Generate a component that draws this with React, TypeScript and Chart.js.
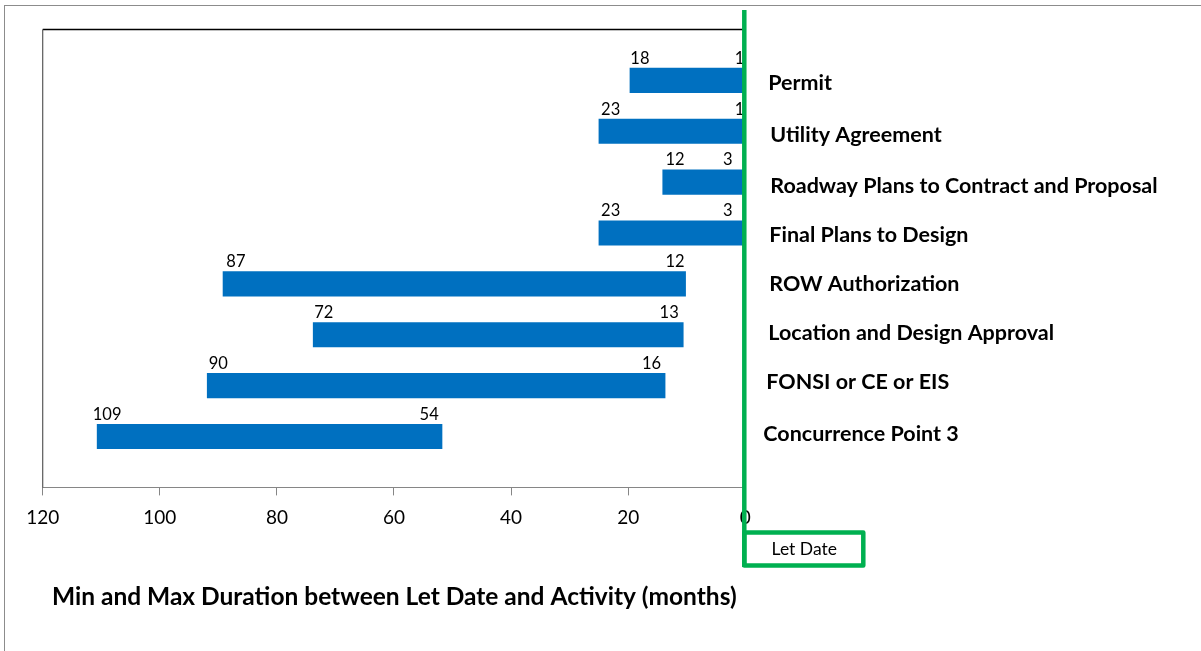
import React, { useEffect, useRef } from "react";
import { Chart, registerables } from "chart.js";

Chart.register(...registerables);

// ---- data ----
const categories = [
  "Permit",
  "Utility Agreement",
  "Roadway Plans to Contract and Proposal",
  "Final Plans to Design",
  "ROW Authorization",
  "Location and Design Approval",
  "FONSI or CE or EIS",
  "Concurrence Point 3",
];
// printed labels (months before Let Date)
const maxMonths = [18, 23, 12, 23, 87, 72, 90, 109];
const minMonths = [1, 1, 3, 3, 12, 13, 16, 54];
// bar extents as drawn in the picture (months)
const barFrom = [19.7, 25.0, 14.1, 25.0, 89.2, 73.8, 91.9, 110.7];
const barTo = [0, 0, 0, 0, 10.2, 10.6, 13.7, 51.8];
const xTickValues = [120, 100, 80, 60, 40, 20, 0];
const axisTitle = "Min and Max Duration between Let Date and Activity (months)";
const markerLabel = "Let Date";
const markerValue = 0;

// ---- styling ----
const W = 1201;
const H = 651;
const FONT = "Lato, 'Open Sans', sans-serif";
const BAR_BLUE = "#0070C0";
const GREEN = "#00B050";
const labelNudgeX = [23, 25, 25, 24, 24, 23, 21, 18];
const labelNudgeY = [3, 4, 3.5, 2, 0, -1.5, -4, -2.5];

const overlayPlugin = {
  id: "overlay",
  beforeDraw(chart: any) {
    const ctx = chart.ctx;
    ctx.save();
    ctx.fillStyle = "#ffffff";
    ctx.fillRect(0, 0, chart.width, chart.height);
    ctx.strokeStyle = "#8c8c8c";
    ctx.lineWidth = 1;
    ctx.strokeRect(4.5, 5.5, chart.width + 10, chart.height + 10);
    ctx.restore();
  },
  afterDraw(chart: any) {
    const ctx = chart.ctx;
    const a = chart.chartArea;
    const x = chart.scales.x;
    const y = chart.scales.y;
    ctx.save();

    // plot area top & left border
    ctx.strokeStyle = "#000000";
    ctx.lineWidth = 1.3;
    ctx.beginPath();
    ctx.moveTo(a.left, a.top);
    ctx.lineTo(a.right, a.top);
    ctx.stroke();
    ctx.strokeStyle = "#595959";
    ctx.lineWidth = 1.2;
    ctx.beginPath();
    ctx.moveTo(a.left, a.top);
    ctx.lineTo(a.left, a.bottom);
    ctx.stroke();

    // data labels + category labels
    categories.forEach((cat, i) => {
      const yc = y.getPixelForValue(i + 1);
      ctx.fillStyle = "#000000";
      ctx.font = `16.5px ${FONT}`;
      ctx.textAlign = "center";
      ctx.textBaseline = "middle";
      ctx.fillText(String(maxMonths[i]), x.getPixelForValue(maxMonths[i]), yc - 22);
      ctx.fillText(String(minMonths[i]), x.getPixelForValue(minMonths[i]), yc - 22);

      ctx.font = `bold 21.5px ${FONT}`;
      ctx.textAlign = "left";
      ctx.fillText(cat, a.right + labelNudgeX[i], yc + labelNudgeY[i]);
    });

    // Let Date marker line and box
    const gx = x.getPixelForValue(markerValue) - 1;
    ctx.strokeStyle = GREEN;
    ctx.lineWidth = 4.5;
    ctx.beginPath();
    ctx.moveTo(gx, 10);
    ctx.lineTo(gx, 567);
    ctx.stroke();
    ctx.lineJoin = "round";
    ctx.strokeRect(gx, 532.5, 119, 33);
    ctx.fillStyle = "#000000";
    ctx.font = `17.5px ${FONT}`;
    ctx.textAlign = "center";
    ctx.textBaseline = "middle";
    ctx.fillText(markerLabel, gx + 60, 549.5);

    // axis title
    ctx.font = `bold 24.5px ${FONT}`;
    ctx.textAlign = "left";
    ctx.fillText(axisTitle, 52, 597);

    ctx.restore();
  },
};

export default function App() {
  const canvasRef = useRef<HTMLCanvasElement | null>(null);

  useEffect(() => {
    const canvas = canvasRef.current;
    if (!canvas) return;
    const yLabels = [" ", ...categories, "  "];
    const barData: any[] = [null, ...categories.map((_, i) => [barTo[i], barFrom[i]]), null];

    const chart = new Chart(canvas, {
      type: "bar",
      data: {
        labels: yLabels,
        datasets: [
          {
            data: barData,
            backgroundColor: BAR_BLUE,
            borderWidth: 0,
            barThickness: 24.5,
          },
        ],
      },
      options: {
        indexAxis: "y",
        animation: false,
        responsive: false,
        maintainAspectRatio: false,
        devicePixelRatio: 1,
        layout: {
          padding: { left: 42.7, right: W - 745.3, top: 29.5, bottom: 0 },
        },
        plugins: {
          legend: { display: false },
          tooltip: { enabled: false },
          title: { display: false },
        },
        scales: {
          x: {
            type: "linear",
            min: 0,
            max: 120,
            reverse: true,
            afterFit: (axis: any) => {
              axis.height = H - 487.4;
            },
            afterBuildTicks: (axis: any) => {
              axis.ticks = xTickValues.map((v) => ({ value: v }));
            },
            ticks: {
              color: "#000000",
              font: { family: FONT, size: 19 },
              padding: 11,
              maxRotation: 0,
              autoSkip: false,
            },
            grid: {
              drawOnChartArea: false,
              drawTicks: true,
              tickLength: 8,
              color: "#868686",
              lineWidth: 1,
            },
            border: { display: true, color: "#868686", width: 1 },
          },
          y: {
            type: "category",
            offset: false,
            display: false,
          },
        },
      },
      plugins: [overlayPlugin],
    });
    return () => chart.destroy();
  }, []);

  return (
    <div style={{ position: "absolute", left: 0, top: 0, width: W, height: H, background: "#fff" }}>
      <canvas ref={canvasRef} width={W} height={H} style={{ display: "block", width: W, height: H }} />
    </div>
  );
}
